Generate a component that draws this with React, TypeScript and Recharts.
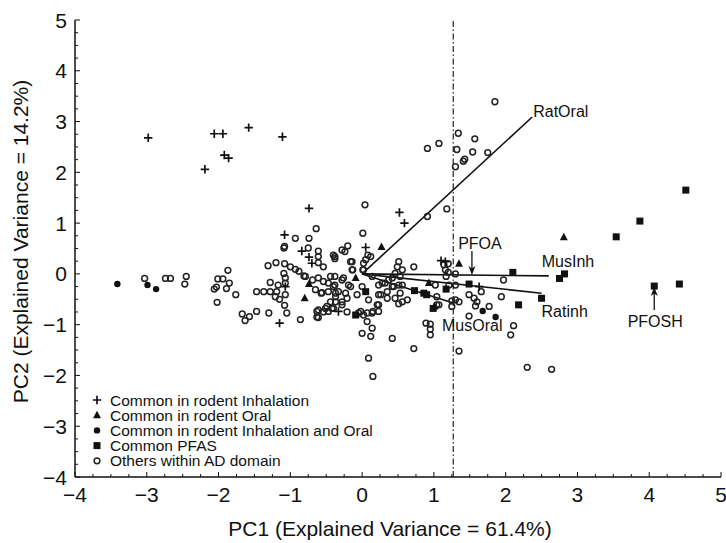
import React from 'react';
import { ScatterChart, Scatter, XAxis, YAxis, ReferenceLine } from 'recharts';

const FONT = '"Liberation Sans", Arial, Helvetica, sans-serif';
const INK = '#111';

// score coordinates (PC1, PC2) per compound group
const inhalation: [number, number][] = [
  [-2.98, 2.68], [-2.06, 2.76], [-1.94, 2.76], [-1.58, 2.88], [-1.11, 2.7], [-1.92, 2.34],
  [-1.86, 2.28], [-2.19, 2.06], [-0.74, 1.29], [-1.08, 0.77], [0.52, 1.21], [0.59, 1.0],
  [0.05, 0.52], [-0.84, 0.45], [-0.74, 0.33], [-0.7, 0.21], [-1.15, -0.97], [1.1, 0.26],
  [1.16, 0.24], [1.63, -0.25], [-0.33, -0.74], [-1.07, -0.25],
];

const oral: [number, number][] = [
  [2.81, 0.72], [0.27, 0.53], [1.35, 0.2], [-0.09, -0.08], [-0.74, -0.2], [-0.8, -0.48],
  [0.93, -0.18], [1.01, -0.64],
];

const inhalationAndOral: [number, number][] = [
  [-3.41, -0.2], [-2.99, -0.22], [-2.87, -0.3], [1.68, -0.73], [1.86, -0.85],
];

const pfas: [number, number][] = [
  [4.51, 1.65], [3.87, 1.04], [3.54, 0.73], [2.1, 0.03], [2.82, 0.0], [2.75, -0.09],
  [4.07, -0.24], [4.42, -0.2], [2.18, -0.61], [2.5, -0.48], [1.49, -0.2], [1.17, -0.3],
  [0.86, -0.38], [0.73, -0.33], [0.9, -0.41], [0.05, -0.35], [-0.09, -0.81], [0.99, -0.68],
];

const others: [number, number][] = [
  [-3.03, -0.09], [-2.74, -0.09], [-2.67, -0.09], [-2.45, -0.05], [-2.47, -0.2],
  [-1.87, 0.07], [-2.01, -0.1], [-1.94, -0.1], [-1.85, -0.18], [-2.06, -0.3], [-2.03, -0.26],
  [-1.89, -0.29], [-1.76, -0.41], [-2.02, -0.56],
  [-1.67, -0.79], [-1.63, -0.92], [-1.57, -0.84], [-1.47, -0.74], [-1.3, -0.77], [-1.05, -0.77],
  [-0.86, -0.9], [-1.47, -0.35], [-1.37, -0.35], [-1.28, -0.35], [-1.19, -0.35],
  [-1.31, 0.16], [-1.2, 0.22], [-1.08, 0.2], [-1.0, 0.14], [-0.93, 0.09], [-1.08, 0.54],
  [-1.28, -0.17], [-1.17, -0.22], [-1.07, -0.18], [-1.15, -0.5], [-1.08, -0.62], [-1.07, -0.41],
  [-1.09, 0.01], [-1.07, -0.08], [-1.21, -0.45],
  [-0.64, 0.89], [-0.93, 0.7], [-0.74, 0.7], [-1.09, 0.51], [-0.75, 0.51], [-0.61, 0.45],
  [-0.88, 0.05], [-0.79, -0.05], [-0.69, -0.12], [-0.56, -0.37], [-0.65, -0.31], [-0.61, -0.71],
  [-0.51, -0.68], [-0.42, -0.68], [-0.63, -0.85], [-0.61, 0.22], [-0.54, 0.14], [-0.61, -0.08],
  [-0.54, -0.15], [-0.81, -0.04], [-0.61, 0.34], [-0.4, 0.37],
  [-0.38, 0.34], [-0.38, 0.3], [-0.28, 0.47], [-0.2, 0.55], [-0.24, 0.44], [-0.16, 0.24],
  [-0.13, 0.08], [0.01, 0.08],
  [-0.47, -0.18], [-0.4, -0.25], [-0.37, -0.38], [-0.28, -0.12], [-0.14, 0.08], [-0.14, 0.24],
  [-0.44, -0.05], [-0.38, -0.05], [-0.38, -0.22], [-0.26, -0.08], [-0.19, -0.22], [-0.57, -0.38],
  [-0.47, -0.35], [-0.33, -0.35], [-0.37, -0.45], [-0.44, -0.55], [-0.49, -0.64], [-0.4, -0.68],
  [-0.28, -0.61], [-0.21, -0.48], [-0.23, -0.38], [-0.16, -0.25], [-0.07, -0.41], [-0.63, -0.74],
  [-0.54, -0.75], [-0.47, -0.74], [-0.61, -0.86], [-0.21, -0.75], [-0.05, -0.77], [0.02, -0.81],
  [0.07, -0.94], [-0.37, -0.55], [-0.28, -0.55], [-0.02, -0.74], [0.07, -0.77], [0.15, -0.74],
  [0.0, -1.17], [0.12, -1.23], [0.14, -1.07], [0.42, -1.27], [0.09, -1.66], [0.15, -2.02],
  [0.72, -1.47],
  [0.0, -0.25], [0.09, -0.51], [0.23, -0.61], [0.23, -0.41], [0.35, -0.35], [0.44, -0.25],
  [0.37, -0.12], [0.46, 0.01], [0.51, -0.59], [0.56, -0.55], [0.63, -0.51], [0.46, -0.48],
  [0.35, -0.48], [0.26, -0.41], [0.21, -0.61], [0.23, -0.74], [0.14, -0.77], [0.53, -0.38],
  [1.04, -0.61], [1.3, -0.51], [1.25, -0.64], [1.21, -0.22], [1.3, -0.22], [0.23, -0.22],
  [0.32, -0.18], [0.42, -0.25], [0.51, -0.22], [1.02, -0.22], [0.89, -0.97], [0.95, -0.99],
  [0.95, -1.09], [0.95, -1.2], [1.35, -1.52], [1.97, -0.12], [1.66, -0.35], [1.49, -0.41],
  [1.56, -0.48], [1.6, -0.55], [1.58, -0.63], [1.77, -0.64], [1.94, -0.45], [1.49, -0.83],
  [2.11, -1.02], [2.07, -1.2], [2.3, -1.84], [2.64, -1.88], [1.35, -0.55], [1.04, -0.45],
  [1.07, -0.61], [1.25, -0.53], [0.56, -0.22], [0.28, -0.18], [0.42, -0.08], [0.14, -0.05],
  [0.04, 1.36], [0.01, 0.8], [0.91, 1.13], [1.18, 1.28], [0.08, 0.37], [0.12, 0.34],
  [0.05, 0.28], [0.02, 0.21], [0.02, 0.08], [0.51, 0.24], [0.56, 0.08], [0.49, 0.14],
  [0.72, 0.14], [1.14, 0.18], [1.2, 0.2], [1.16, 0.08], [1.2, 0.03], [1.17, -0.05], [1.3, 0.0],
  [0.53, -0.05],
  [1.85, 3.39], [1.34, 2.77], [1.57, 2.66], [1.07, 2.57], [0.91, 2.47], [1.32, 2.45],
  [1.54, 2.4], [1.75, 2.39], [1.43, 2.26], [1.41, 2.22], [1.3, 2.11],
];

// loading vectors
const loadingNames = ['RatOral', 'MusInh', 'Ratinh', 'MusOral'];
const loadingPC1 = [2.37, 2.6, 2.5, 1.28];
const loadingPC2 = [3.09, -0.04, -0.38, -0.58];

// arrow callouts
const calloutNames = ['PFOA', 'PFOSH'];
const calloutPC1 = [1.53, 4.07];
const calloutFrom = [0.45, -0.71];
const calloutTo = [-0.02, -0.26];

const xTickLabels = [-4, -3, -2, -1, 0, 1, 2, 3, 4, 5];
const yTickLabels = [-4, -3, -2, -1, 0, 1, 2, 3, 4, 5];
const cutoffPC1 = 1.27;

const legendLabels = [
  'Common in rodent Inhalation',
  'Common in rodent Oral',
  'Common in rodent Inhalation and Oral',
  'Common PFAS',
  'Others within AD domain',
];

// label placement around the vector tips, in px
const vectorLabelShift: Record<string, [number, number]> = {
  RatOral: [1, 0],
  MusInh: [-7, -9],
  Ratinh: [0, 24],
  MusOral: [-12, 28],
};
const calloutLabelShift: Record<string, [number, number]> = {
  PFOA: [8, -2],
  PFOSH: [1, 17],
};

const withQuarters = (major: number[]) =>
  major.flatMap((v, i) => (i === 0 ? [v] : [v - 0.75, v - 0.5, v - 0.25, v]));
const xTicks = withQuarters(xTickLabels);
const yTicks = withQuarters(yTickLabels);

const toPoints = (pairs: [number, number][]) => pairs.map(([x, y]) => ({ x, y }));

const fmt = (v: number) => (v < 0 ? `\u2212${Math.abs(v)}` : `${v}`);

// marker shapes
const CrossMark = ({ cx, cy }: any) => (
  <path d={`M${cx - 4.2},${cy}H${cx + 4.2}M${cx},${cy - 4.2}V${cy + 4.2}`} stroke={INK} strokeWidth={1.7} />
);
const TriangleMark = ({ cx, cy }: any) => (
  <polygon points={`${cx},${cy - 4.5} ${cx + 4},${cy + 3} ${cx - 4},${cy + 3}`} fill={INK} />
);
const DotMark = ({ cx, cy }: any) => <circle cx={cx} cy={cy} r={3.2} fill={INK} />;
const SquareMark = ({ cx, cy }: any) => <rect x={cx - 3.5} y={cy - 3.5} width={7} height={7} fill={INK} />;
const RingMark = ({ cx, cy }: any) => (
  <circle cx={cx} cy={cy} r={2.9} fill="none" stroke="#222" strokeWidth={1.5} />
);

const legendMarks = [CrossMark, TriangleMark, DotMark, SquareMark, RingMark];

// inward tick marks; labels only on whole numbers
const BottomTick = ({ x, y, payload }: any) => {
  const major = Number.isInteger(payload.value);
  return (
    <g>
      <line x1={x} y1={y} x2={x} y2={y - (major ? 5 : 3)} stroke={INK} strokeWidth={1} />
      {major && (
        <text x={x} y={y + 25} textAnchor="middle" fontSize={21} fontFamily={FONT} fill={INK}>
          {fmt(payload.value)}
        </text>
      )}
    </g>
  );
};
const TopTick = ({ x, y, payload }: any) => {
  const major = Number.isInteger(payload.value);
  return <line x1={x} y1={y} x2={x} y2={y + (major ? 5 : 3)} stroke={INK} strokeWidth={1} />;
};
const LeftTick = ({ x, y, payload }: any) => {
  const major = Number.isInteger(payload.value);
  return (
    <g>
      <line x1={x} y1={y} x2={x + (major ? 5 : 3)} y2={y} stroke={INK} strokeWidth={1} />
      {major && (
        <text x={x - 8} y={y + 7.5} textAnchor="end" fontSize={21} fontFamily={FONT} fill={INK}>
          {fmt(payload.value)}
        </text>
      )}
    </g>
  );
};
const RightTick = ({ x, y, payload }: any) => {
  const major = Number.isInteger(payload.value);
  return <line x1={x} y1={y} x2={x - (major ? 5 : 3)} y2={y} stroke={INK} strokeWidth={1} />;
};

const vectorShape = (name: string) => (p: any) => {
  const [dx, dy] = vectorLabelShift[name];
  return (
    <g>
      <line x1={p.x1} y1={p.y1} x2={p.x2} y2={p.y2} stroke={INK} strokeWidth={1.6} />
      <text x={p.x2 + dx} y={p.y2 + dy} fontSize={16} fontFamily={FONT} fill={INK}>
        {name}
      </text>
    </g>
  );
};

const calloutShape = (name: string) => (p: any) => {
  const [dx, dy] = calloutLabelShift[name];
  const dir = p.y2 > p.y1 ? 1 : -1;
  const tx = p.x2;
  const ty = p.y2;
  return (
    <g>
      <line x1={p.x1} y1={p.y1} x2={tx} y2={ty - dir * 4} stroke={INK} strokeWidth={1.3} />
      <polygon
        points={`${tx},${ty} ${tx - 3.5},${ty - dir * 9} ${tx},${ty - dir * 6.5} ${tx + 3.5},${ty - dir * 9}`}
        fill={INK}
      />
      <text x={p.x1 + dx} y={p.y1 + dy} textAnchor="middle" fontSize={16} fontFamily={FONT} fill={INK}>
        {name}
      </text>
    </g>
  );
};

const axisLine = { stroke: INK, strokeWidth: 1.5 };

export default function App() {
  return (
    <div
      style={{ position: 'absolute', left: 0, top: 0, width: 726, height: 543, background: '#fff', fontFamily: FONT }}
    >
      <ScatterChart width={726} height={543} margin={{ top: 20, right: 5, bottom: 0, left: 0 }}>
        <XAxis
          type="number"
          dataKey="x"
          domain={[-4, 5]}
          ticks={xTicks}
          interval={0}
          allowDataOverflow
          height={66}
          tickSize={0}
          tickMargin={0}
          tickLine={false}
          axisLine={axisLine}
          tick={(p: any) => <BottomTick {...p} />}
          label={(p: any) => {
            const vb = p.viewBox;
            return (
              <text
                x={vb.x + vb.width / 2 - 8}
                y={vb.y + 59}
                textAnchor="middle"
                fontSize={21}
                fontFamily={FONT}
                fill={INK}
              >
                PC1 (Explained Variance = 61.4%)
              </text>
            );
          }}
        />
        <XAxis
          xAxisId="top"
          orientation="top"
          type="number"
          dataKey="x"
          domain={[-4, 5]}
          ticks={xTicks}
          interval={0}
          allowDataOverflow
          height={0}
          tickSize={0}
          tickMargin={0}
          tickLine={false}
          axisLine={axisLine}
          tick={(p: any) => <TopTick {...p} />}
        />
        <YAxis
          type="number"
          dataKey="y"
          domain={[-4, 5]}
          ticks={yTicks}
          interval={0}
          allowDataOverflow
          width={75}
          tickSize={0}
          tickMargin={0}
          tickLine={false}
          axisLine={axisLine}
          tick={(p: any) => <LeftTick {...p} />}
          label={(p: any) => {
            const vb = p.viewBox;
            const cy = vb.y + vb.height / 2 - 7;
            return (
              <text
                x={28}
                y={cy}
                transform={`rotate(-90, 28, ${cy})`}
                textAnchor="middle"
                fontSize={21}
                fontFamily={FONT}
                fill={INK}
              >
                PC2 (Explained Variance = 14.2%)
              </text>
            );
          }}
        />
        <YAxis
          yAxisId="right"
          orientation="right"
          type="number"
          dataKey="y"
          domain={[-4, 5]}
          ticks={yTicks}
          interval={0}
          allowDataOverflow
          width={0}
          tickSize={0}
          tickMargin={0}
          tickLine={false}
          axisLine={axisLine}
          tick={(p: any) => <RightTick {...p} />}
        />

        <ReferenceLine x={cutoffPC1} stroke="#333" strokeWidth={1.3} strokeDasharray="6 2.5 1.5 2.5" />

        <Scatter name={legendLabels[4]} data={toPoints(others)} shape={RingMark} isAnimationActive={false} />

        {loadingNames.map((name, i) => (
          <ReferenceLine
            key={name}
            segment={[
              { x: 0, y: 0 },
              { x: loadingPC1[i], y: loadingPC2[i] },
            ]}
            shape={vectorShape(name)}
          />
        ))}

        <Scatter name={legendLabels[0]} data={toPoints(inhalation)} shape={CrossMark} isAnimationActive={false} />
        <Scatter name={legendLabels[1]} data={toPoints(oral)} shape={TriangleMark} isAnimationActive={false} />
        <Scatter name={legendLabels[2]} data={toPoints(inhalationAndOral)} shape={DotMark} isAnimationActive={false} />
        <Scatter name={legendLabels[3]} data={toPoints(pfas)} shape={SquareMark} isAnimationActive={false} />

        {calloutNames.map((name, i) => (
          <ReferenceLine
            key={name}
            segment={[
              { x: calloutPC1[i], y: calloutFrom[i] },
              { x: calloutPC1[i], y: calloutTo[i] },
            ]}
            shape={calloutShape(name)}
          />
        ))}
      </ScatterChart>

      {/* legend block in the lower-left corner of the plot */}
      <svg width={726} height={543} style={{ position: 'absolute', left: 0, top: 0, pointerEvents: 'none' }}>
        {legendLabels.map((label, i) => {
          const Mark = legendMarks[i];
          const cy = 400 + i * 15.2;
          return (
            <g key={label}>
              <Mark cx={97} cy={cy} />
              <text x={110} y={cy + 5.5} fontSize={15.5} fontFamily={FONT} fill={INK}>
                {label}
              </text>
            </g>
          );
        })}
      </svg>
    </div>
  );
}
